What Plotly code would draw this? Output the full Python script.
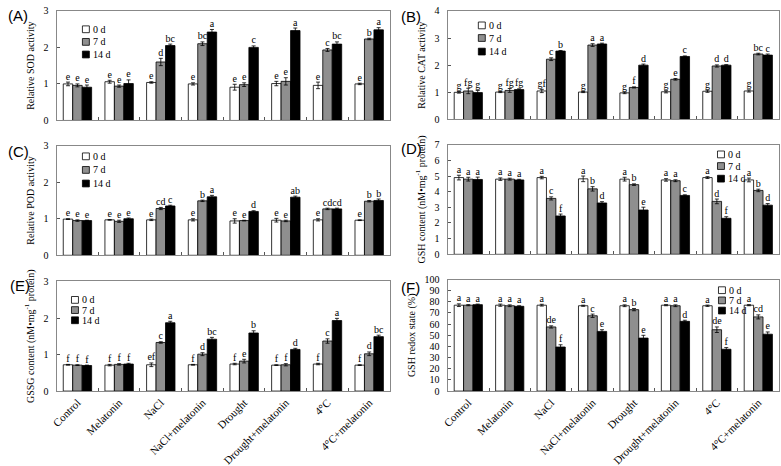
import plotly.graph_objects as go

categories = ["Control", "Melatonin", "NaCl", "NaCl+melatonin", "Drought",
              "Drought+melatonin", "4°C", "4°C+melatonin"]
series_names = ["0 d", "7 d", "14 d"]

# (A) Relative SOD activity
sod_0 = [1.00, 1.06, 1.04, 1.00, 0.91, 1.01, 0.96, 1.00]
sod_7 = [0.96, 0.94, 1.60, 2.10, 0.98, 1.07, 1.93, 2.23]
sod_14 = [0.91, 1.01, 2.05, 2.42, 2.00, 2.46, 2.09, 2.48]
sod_e0 = [0.05, 0.04, 0.02, 0.03, 0.08, 0.06, 0.09, 0.02]
sod_e7 = [0.04, 0.03, 0.10, 0.05, 0.05, 0.10, 0.04, 0.02]
sod_e14 = [0.06, 0.10, 0.04, 0.07, 0.04, 0.07, 0.06, 0.06]
sod_l0 = ["e", "e", "e", "e", "e", "e", "e", "e"]
sod_l7 = ["e", "e", "d", "bc", "e", "e", "c", "b"]
sod_l14 = ["e", "e", "bc", "a", "c", "a", "bc", "a"]

# (B) Relative CAT activity
cat_0 = [1.00, 1.01, 1.05, 1.01, 0.98, 1.02, 1.04, 1.05]
cat_7 = [1.05, 1.07, 2.22, 2.74, 1.18, 1.48, 1.97, 2.41]
cat_14 = [0.99, 1.10, 2.52, 2.78, 2.00, 2.32, 2.00, 2.37]
cat_e0 = [0.03, 0.02, 0.06, 0.02, 0.03, 0.04, 0.04, 0.04]
cat_e7 = [0.10, 0.07, 0.05, 0.05, 0.02, 0.03, 0.04, 0.03]
cat_e14 = [0.08, 0.03, 0.02, 0.03, 0.04, 0.02, 0.02, 0.04]
cat_l0 = ["g", "g", "gf", "g", "g", "g", "g", "g"]
cat_l7 = ["fg", "fg", "c", "a", "f", "e", "d", "bc"]
cat_l14 = ["g", "fg", "b", "a", "d", "c", "d", "c"]

# (C) Relative POD activity
pod_0 = [0.99, 0.97, 0.97, 0.97, 0.94, 0.96, 0.97, 0.96]
pod_7 = [0.95, 0.93, 1.28, 1.49, 0.95, 0.94, 1.27, 1.48]
pod_14 = [0.95, 1.00, 1.35, 1.60, 1.20, 1.59, 1.27, 1.50]
pod_e0 = [0.01, 0.01, 0.02, 0.03, 0.06, 0.05, 0.03, 0.01]
pod_e7 = [0.02, 0.03, 0.03, 0.02, 0.01, 0.02, 0.02, 0.02]
pod_e14 = [0.01, 0.02, 0.02, 0.04, 0.02, 0.03, 0.02, 0.04]
pod_l0 = ["e", "e", "e", "e", "e", "e", "e", "e"]
pod_l7 = ["e", "e", "cd", "b", "e", "e", "cd", "b"]
pod_l14 = ["e", "e", "c", "a", "d", "ab", "cd", "b"]

# (D) GSH content
gsh_0 = [4.90, 4.80, 4.90, 4.82, 4.80, 4.75, 4.90, 4.75]
gsh_7 = [4.80, 4.80, 3.57, 4.18, 4.45, 4.70, 3.38, 4.08]
gsh_14 = [4.78, 4.75, 2.45, 3.28, 2.83, 3.76, 2.30, 3.14]
gsh_e0 = [0.15, 0.08, 0.08, 0.18, 0.12, 0.08, 0.06, 0.12]
gsh_e7 = [0.12, 0.06, 0.10, 0.14, 0.05, 0.06, 0.15, 0.08]
gsh_e14 = [0.15, 0.04, 0.12, 0.08, 0.18, 0.04, 0.10, 0.10]
gsh_l0 = ["a", "a", "a", "a", "a", "a", "a", "a"]
gsh_l7 = ["a", "a", "c", "b", "b", "a", "d", "b"]
gsh_l14 = ["a", "a", "f", "d", "e", "c", "f", "d"]

# (E) GSSG content
gssg_0 = [0.72, 0.71, 0.72, 0.72, 0.74, 0.71, 0.74, 0.71]
gssg_7 = [0.71, 0.73, 1.33, 1.01, 0.82, 0.72, 1.37, 1.02]
gssg_14 = [0.70, 0.74, 1.87, 1.42, 1.59, 1.14, 1.93, 1.49]
gssg_e0 = [0.01, 0.02, 0.05, 0.01, 0.02, 0.01, 0.02, 0.01]
gssg_e7 = [0.01, 0.02, 0.02, 0.04, 0.05, 0.03, 0.06, 0.05]
gssg_e14 = [0.01, 0.02, 0.04, 0.05, 0.06, 0.03, 0.06, 0.04]
gssg_l0 = ["f", "f", "ef", "f", "f", "f", "f", "f"]
gssg_l7 = ["f", "f", "c", "d", "e", "f", "c", "d"]
gssg_l14 = ["f", "f", "a", "bc", "b", "d", "a", "bc"]

# (F) GSH redox state (%)
redox_0 = [77.0, 77.0, 77.0, 76.5, 76.5, 77.0, 76.5, 77.0]
redox_7 = [77.0, 76.5, 57.5, 67.5, 73.0, 76.5, 55.0, 66.5]
redox_14 = [77.5, 76.0, 39.5, 53.5, 47.5, 62.5, 37.5, 51.0]
redox_e0 = [1.2, 1.0, 0.8, 0.5, 0.8, 0.5, 0.6, 0.5]
redox_e7 = [0.5, 0.8, 1.0, 1.5, 1.0, 0.8, 2.5, 1.8]
redox_e14 = [0.5, 0.5, 2.0, 1.5, 2.5, 1.0, 1.5, 2.0]
redox_l0 = ["a", "a", "a", "a", "a", "a", "a", "a"]
redox_l7 = ["a", "a", "de", "c", "b", "a", "de", "cd"]
redox_l14 = ["a", "a", "f", "e", "e", "d", "f", "e"]

panels = [
    dict(tag="(A)", title="Relative SOD activity", rng=[0, 3], dtick=1,
         vals=[sod_0, sod_7, sod_14], errs=[sod_e0, sod_e7, sod_e14],
         lets=[sod_l0, sod_l7, sod_l14]),
    dict(tag="(B)", title="Relative CAT activity", rng=[0, 4], dtick=1,
         vals=[cat_0, cat_7, cat_14], errs=[cat_e0, cat_e7, cat_e14],
         lets=[cat_l0, cat_l7, cat_l14]),
    dict(tag="(C)", title="Relative POD activity", rng=[0, 3], dtick=1,
         vals=[pod_0, pod_7, pod_14], errs=[pod_e0, pod_e7, pod_e14],
         lets=[pod_l0, pod_l7, pod_l14]),
    dict(tag="(D)", title="GSH content (nM•mg<sup>-1</sup> protein)", rng=[0, 7], dtick=1,
         vals=[gsh_0, gsh_7, gsh_14], errs=[gsh_e0, gsh_e7, gsh_e14],
         lets=[gsh_l0, gsh_l7, gsh_l14]),
    dict(tag="(E)", title="GSSG content (nM•mg<sup>-1</sup> protein)", rng=[0, 3], dtick=1,
         vals=[gssg_0, gssg_7, gssg_14], errs=[gssg_e0, gssg_e7, gssg_e14],
         lets=[gssg_l0, gssg_l7, gssg_l14]),
    dict(tag="(F)", title="GSH redox state (%)", rng=[0, 100], dtick=10,
         vals=[redox_0, redox_7, redox_14], errs=[redox_e0, redox_e7, redox_e14],
         lets=[redox_l0, redox_l7, redox_l14]),
]

W, H = 781, 466
# plot-area boxes in pixels: left, right, top, bottom
boxes = [
    (51, 387, 5, 118), (445, 779, 5, 117),
    (51, 387, 144, 257), (445, 779, 143, 256),
    (51, 387, 284, 397), (445, 779, 282, 397),
]
# legend: key left x, row centre y's
legend_pos = [(77, [24, 37, 50]), (476, [20, 33, 47]), (77, [155, 169, 183]),
              (717, [153, 165, 178]), (66, [303, 313.5, 324]), (718, [293, 303.5, 314])]
tag_pos = [(0, 10), (396, 11), (0, 150), (396, 147), (2, 288), (396, 290)]

fills = ["white", "#8f8f8f", "black"]
BW = 0.227
KEY = 7
SERIF = "Liberation Serif, Times New Roman, serif"

fig = go.Figure()
layout = dict(width=W, height=H, margin=dict(l=0, r=0, t=0, b=0), autosize=False,
              plot_bgcolor="white", paper_bgcolor="white", barmode="overlay",
              showlegend=False,
              font=dict(family=SERIF, size=10, color="black"), annotations=[], shapes=[])
xs = list(range(len(categories)))

for p, (pn, box, lp, tp) in enumerate(zip(panels, boxes, legend_pos, tag_pos)):
    sfx = "" if p == 0 else str(p + 1)
    xa, ya = "x" + sfx, "y" + sfx
    for k in range(3):
        off = (k - 1) * BW - BW / 2
        fig.add_trace(go.Bar(
            x=xs, y=pn["vals"][k], name=series_names[k], width=BW, offset=off,
            marker=dict(color=fills[k], line=dict(color="black", width=0.8)),
            error_y=dict(type="data", array=pn["errs"][k], color="black",
                         thickness=0.8, width=2),
            xaxis=xa, yaxis=ya))
        fig.add_trace(go.Scatter(
            x=[i + (k - 1) * BW for i in xs],
            y=[v + e for v, e in zip(pn["vals"][k], pn["errs"][k])],
            text=pn["lets"][k], mode="text", textposition="top center",
            textfont=dict(family=SERIF, size=10, color="black"),
            xaxis=xa, yaxis=ya, hoverinfo="skip"))
        # legend key + label
        kx, rows = lp
        ky = rows[k]
        layout["shapes"].append(dict(
            type="rect", xref="paper", yref="paper",
            x0=kx / W, x1=(kx + KEY) / W, y0=1 - (ky + KEY / 2) / H, y1=1 - (ky - KEY / 2) / H,
            fillcolor=fills[k], line=dict(color="black", width=0.8)))
        layout["annotations"].append(dict(
            text=series_names[k], x=(kx + KEY + 1.5) / W, y=1 - ky / H,
            xref="paper", yref="paper", xanchor="left", yanchor="middle",
            showarrow=False, font=dict(family=SERIF, size=10)))
    l, r, t, b = box
    show_x = p >= 4
    layout["xaxis" + sfx] = dict(
        domain=[l / W, r / W], anchor=ya, range=[-0.5, len(categories) - 0.5],
        tickmode="array", tickvals=xs, ticktext=categories,
        showticklabels=show_x, tickangle=-45, ticks="",
        tickfont=dict(family=SERIF, size=11),
        minor=dict(tickmode="array", tickvals=[i + 0.5 for i in xs[:-1]],
                   ticks="inside", ticklen=3, tickcolor="#555", tickwidth=1),
        showline=True, mirror=True, linecolor="#888", linewidth=1,
        showgrid=False, zeroline=False, fixedrange=True)
    layout["yaxis" + sfx] = dict(
        domain=[1 - b / H, 1 - t / H], anchor=xa, range=pn["rng"], dtick=pn["dtick"],
        ticks="inside", ticklen=3, tickcolor="#555",
        tickfont=dict(family=SERIF, size=10), ticklabelstandoff=5,
        title=dict(text=pn["title"], font=dict(family=SERIF, size=10), standoff=7),
        showline=True, mirror=True, linecolor="#888", linewidth=1,
        showgrid=False, zeroline=False, fixedrange=True)
    layout["annotations"].append(dict(
        text=pn["tag"], x=tp[0] / W, y=1 - tp[1] / H, xref="paper", yref="paper",
        xanchor="left", yanchor="middle", showarrow=False,
        font=dict(family="Liberation Sans, Arial, sans-serif", size=15)))

fig.update_layout(**layout)
fig.write_html("out.html", config={"displayModeBar": False},
               post_script="document.body.style.margin='0';")
